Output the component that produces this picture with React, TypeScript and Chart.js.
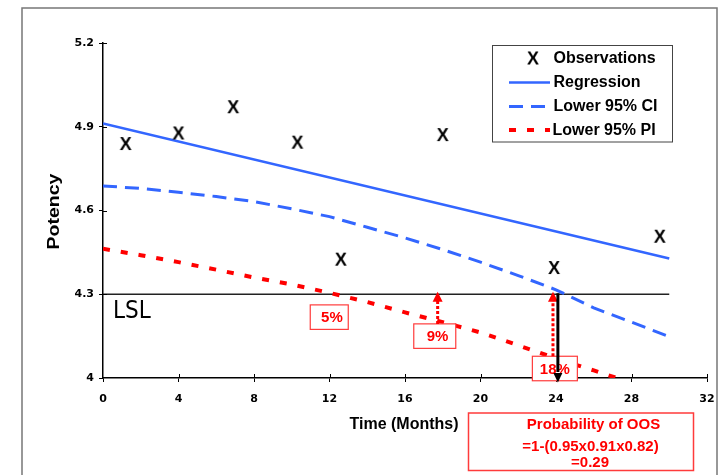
import React, { useEffect, useRef } from "react";
import { Chart, registerables } from "chart.js";

Chart.register(...registerables);

// ---- data ----
const obsMonths = [1.2, 4.0, 6.9, 10.3, 12.6, 18.0, 23.9, 29.5];
const obsPotency = [4.838, 4.876, 4.97, 4.843, 4.424, 4.87, 4.394, 4.506];

const regMonths = [0, 30];
const regPotency = [4.912, 4.428];

const bandMonths = [0, 2, 4, 6, 8, 10, 12, 14, 16, 18, 20, 22, 24, 26, 28, 30];
const ciLower = [4.688, 4.679, 4.665, 4.65, 4.632, 4.606, 4.578, 4.54, 4.502, 4.46, 4.415, 4.367, 4.316, 4.251, 4.2, 4.148];
const piLower = [4.463, 4.44, 4.415, 4.388, 4.36, 4.335, 4.305, 4.272, 4.235, 4.2, 4.163, 4.117, 4.07, 4.027, 3.983, 3.94];

const lslValue = 4.3;
const lslMonths = [0, 30];

const xTickValues = [0, 4, 8, 12, 16, 20, 24, 28, 32];
const yTickValues = [4, 4.3, 4.6, 4.9, 5.2];

const seriesNames = ["Observations", "Regression", "Lower 95% CI", "Lower 95% PI"];
const xTitle = "Time (Months)";
const yTitle = "Potency";
const lslText = "LSL";

const pctLabels = ["5%", "9%", "18%"];
const pctMonths = [12.13, 17.72, 23.94];
const pctPotency = [4.218, 4.15, 4.034];

const arrowMonths = [17.73, 23.84];
const oosMonth = 24.1;
const oosLines = ["Probability of OOS", "=1-(0.95x0.91x0.82)", "=0.29"];

const BLUE = "#3366ff";
const RED = "#ff0000";
const BOLD = '"Liberation Sans", Arial, sans-serif';
const TICKFONT = '"DejaVu Sans", sans-serif';

function makeX(): HTMLCanvasElement {
  const c = document.createElement("canvas");
  c.width = 24;
  c.height = 24;
  const g = c.getContext("2d")!;
  g.fillStyle = "#000";
  g.font = `bold 18px ${BOLD}`;
  g.textAlign = "center";
  g.textBaseline = "alphabetic";
  g.fillText("X", 12, 12 + 6.4);
  return c;
}

export default function App() {
  const ref = useRef<HTMLCanvasElement | null>(null);

  useEffect(() => {
    if (!ref.current) return;
    const xImg = makeX();

    const overlay = {
      id: "overlay",
      beforeDraw(chart: any) {
        const ctx = chart.ctx;
        ctx.save();
        ctx.fillStyle = "#fff";
        ctx.fillRect(0, 0, chart.width, chart.height);
        ctx.strokeStyle = "#777";
        ctx.lineWidth = 1.5;
        ctx.beginPath();
        ctx.moveTo(22, 480);
        ctx.lineTo(22, 8);
        ctx.lineTo(717, 8);
        ctx.lineTo(717, 480);
        ctx.stroke();
        ctx.restore();
      },
      afterDraw(chart: any) {
        const ctx = chart.ctx;
        const xs = chart.scales.x;
        const ys = chart.scales.y;
        const area = chart.chartArea;
        ctx.save();

        // inner halves of tick marks
        ctx.strokeStyle = "#000";
        ctx.lineWidth = 1;
        xTickValues.forEach((v) => {
          if (v === 0) return;
          const px = Math.round(xs.getPixelForValue(v)) + 0.5;
          ctx.beginPath();
          ctx.moveTo(px, area.bottom);
          ctx.lineTo(px, area.bottom - 4);
          ctx.stroke();
        });
        yTickValues.forEach((v) => {
          if (v === yTickValues[0]) return;
          const py = Math.round(ys.getPixelForValue(v)) + 0.5;
          ctx.beginPath();
          ctx.moveTo(area.left, py);
          ctx.lineTo(area.left + 4, py);
          ctx.stroke();
        });

        // axis titles
        ctx.fillStyle = "#000";
        ctx.font = `bold 16px ${BOLD}`;
        ctx.textAlign = "center";
        ctx.textBaseline = "middle";
        ctx.fillText(xTitle, 404, area.bottom + 47);
        ctx.save();
        ctx.translate(55, 211.5);
        ctx.rotate(-Math.PI / 2);
        ctx.scale(1.22, 1);
        ctx.fillText(yTitle, 0, 0);
        ctx.restore();

        // LSL label
        ctx.font = `24px "Liberation Sans Narrow", "DejaVu Sans Condensed", sans-serif`;
        ctx.textAlign = "left";
        ctx.textBaseline = "middle";
        ctx.fillText(lslText, xs.getPixelForValue(0.53), ys.getPixelForValue(4.236));

        // percentage boxes
        const boxW = [38, 42, 45];
        const boxDx = [-2.7, -2.7, 0];
        const boxH = 24.5;
        const boxTops: number[] = [];
        pctLabels.forEach((lab, i) => {
          const cx = xs.getPixelForValue(pctMonths[i]);
          const cy = ys.getPixelForValue(pctPotency[i]);
          const left = cx + boxDx[i] - boxW[i] / 2;
          const top = cy - boxH / 2;
          boxTops.push(top);
          ctx.fillStyle = "#fff";
          ctx.fillRect(left, top, boxW[i], boxH);
          ctx.strokeStyle = "#ff3b3b";
          ctx.lineWidth = 1.2;
          ctx.strokeRect(left, top, boxW[i], boxH);
          ctx.fillStyle = RED;
          ctx.font = `bold 15px ${BOLD}`;
          ctx.textAlign = "center";
          ctx.textBaseline = "middle";
          ctx.fillText(lab, cx, cy + 1);
        });

        // red dotted arrows
        const lslY = ys.getPixelForValue(lslValue);
        arrowMonths.forEach((m, i) => {
          const px = xs.getPixelForValue(m);
          const bottom = boxTops[i + 1];
          ctx.strokeStyle = RED;
          ctx.lineWidth = 3;
          ctx.setLineDash([3, 2]);
          ctx.beginPath();
          ctx.moveTo(px, bottom);
          ctx.lineTo(px, lslY + 6);
          ctx.stroke();
          ctx.setLineDash([]);
          ctx.fillStyle = RED;
          ctx.beginPath();
          ctx.moveTo(px, lslY - 2.5);
          ctx.lineTo(px - 5, lslY + 7.5);
          ctx.lineTo(px + 5, lslY + 7.5);
          ctx.closePath();
          ctx.fill();
        });

        // black arrow
        {
          const px = xs.getPixelForValue(oosMonth);
          ctx.strokeStyle = "#000";
          ctx.lineWidth = 3;
          ctx.beginPath();
          ctx.moveTo(px, lslY - 1);
          ctx.lineTo(px, area.bottom - 6);
          ctx.stroke();
          ctx.fillStyle = "#000";
          ctx.beginPath();
          ctx.moveTo(px, area.bottom + 4.5);
          ctx.lineTo(px - 4.5, area.bottom - 5);
          ctx.lineTo(px + 4.5, area.bottom - 5);
          ctx.closePath();
          ctx.fill();
        }

        // probability of OOS box
        {
          const left = 468.5;
          const top = area.bottom + 35;
          const w = 225;
          const h = 57.5;
          ctx.fillStyle = "#fff";
          ctx.fillRect(left, top, w, h);
          ctx.strokeStyle = "#ff3b3b";
          ctx.lineWidth = 1.5;
          ctx.strokeRect(left, top, w, h);
          ctx.fillStyle = RED;
          ctx.font = `bold 15px ${BOLD}`;
          ctx.textAlign = "center";
          ctx.textBaseline = "middle";
          const offs = [12, 34, 50];
          const cxs = [593.5, 590.5, 590];
          oosLines.forEach((t, i) => ctx.fillText(t, cxs[i], top + offs[i]));
        }

        // legend
        {
          const lx = 492.5;
          const ly = 45.5;
          const lw = 180;
          const lh = 96.5;
          ctx.fillStyle = "#fff";
          ctx.fillRect(lx, ly, lw, lh);
          ctx.strokeStyle = "#444";
          ctx.lineWidth = 1;
          ctx.strokeRect(lx, ly, lw, lh);
          const rows = [58.5, 82.5, 106.5, 130];
          const ds = chart.data.datasets;
          seriesNames.forEach((name, i) => {
            const ry = rows[i];
            if (i === 0) {
              ctx.drawImage(xImg, 533 - 12, ry - 12);
            } else {
              const d = ds[i];
              ctx.strokeStyle = d.borderColor;
              ctx.lineWidth = d.borderWidth;
              ctx.setLineDash(d.borderDash || []);
              ctx.beginPath();
              ctx.moveTo(509, ry);
              ctx.lineTo(550, ry);
              ctx.stroke();
              ctx.setLineDash([]);
            }
            ctx.fillStyle = "#000";
            ctx.font = `bold 16px ${BOLD}`;
            ctx.textAlign = "left";
            ctx.textBaseline = "middle";
            ctx.fillText(name, i === 3 ? 552.5 : 553.5, ry + 0.5);
          });
        }

        ctx.restore();
      },
    };

    const pts = (xsArr: number[], ysArr: number[]) => xsArr.map((x, i) => ({ x, y: ysArr[i] }));

    const chart = new Chart(ref.current, {
      type: "scatter",
      data: {
        datasets: [
          {
            label: seriesNames[0],
            data: pts(obsMonths, obsPotency),
            pointStyle: xImg as any,
            pointRadius: 7,
            showLine: false,
            order: 0,
          },
          {
            label: seriesNames[1],
            data: pts(regMonths, regPotency),
            showLine: true,
            borderColor: BLUE,
            borderWidth: 2.5,
            pointRadius: 0,
            order: 1,
          },
          {
            label: seriesNames[2],
            data: pts(bandMonths, ciLower),
            showLine: true,
            borderColor: BLUE,
            borderWidth: 3,
            borderDash: [14, 8],
            pointRadius: 0,
            order: 2,
          },
          {
            label: seriesNames[3],
            data: pts(bandMonths, piLower),
            showLine: true,
            borderColor: RED,
            borderWidth: 4,
            borderDash: [7, 11],
            pointRadius: 0,
            clip: 0,
            order: 3,
          },
          {
            label: "LSL",
            data: pts(lslMonths, lslMonths.map(() => lslValue)),
            showLine: true,
            borderColor: "#222",
            borderWidth: 1.5,
            pointRadius: 0,
            order: 4,
          },
        ] as any,
      },
      options: {
        responsive: false,
        animation: false,
        events: [],
        layout: { padding: { top: 43, right: 14, bottom: 0, left: 0 } },
        plugins: { legend: { display: false }, tooltip: { enabled: false } },
        scales: {
          x: {
            type: "linear",
            min: 0,
            max: 32,
            afterFit: (s: any) => {
              s.height = 97;
              s.paddingLeft = 0;
              s.paddingRight = 0;
            },
            afterBuildTicks: (s: any) => {
              s.ticks = xTickValues.map((v) => ({ value: v }));
            },
            grid: { display: true, drawOnChartArea: false, drawTicks: true, tickLength: 4, color: "#000" },
            border: { display: true, color: "#000", width: 1.5 },
            ticks: {
              padding: 11,
              color: "#000",
              font: { family: TICKFONT, weight: "bold", size: 11 },
              maxRotation: 0,
              callback: (v: any) => String(v),
            },
            title: { display: false },
          },
          y: {
            type: "linear",
            min: 4,
            max: 5.2,
            afterFit: (s: any) => {
              s.width = 103;
              s.paddingTop = 0;
              s.paddingBottom = 0;
            },
            afterBuildTicks: (s: any) => {
              s.ticks = yTickValues.map((v) => ({ value: v }));
            },
            grid: { display: true, drawOnChartArea: false, drawTicks: true, tickLength: 4, color: "#000" },
            border: { display: true, color: "#000", width: 1.5 },
            ticks: {
              padding: 5,
              color: "#000",
              font: { family: TICKFONT, weight: "bold", size: 11 },
              callback: (v: any) => String(Number(Number(v).toFixed(1))),
            },
            title: { display: false },
          },
        },
      } as any,
      plugins: [overlay],
    });

    return () => chart.destroy();
  }, []);

  return (
    <div style={{ position: "fixed", left: 0, top: 0, width: 721, height: 475 }}>
      <canvas ref={ref} width={721} height={475} style={{ display: "block" }} />
    </div>
  );
}
